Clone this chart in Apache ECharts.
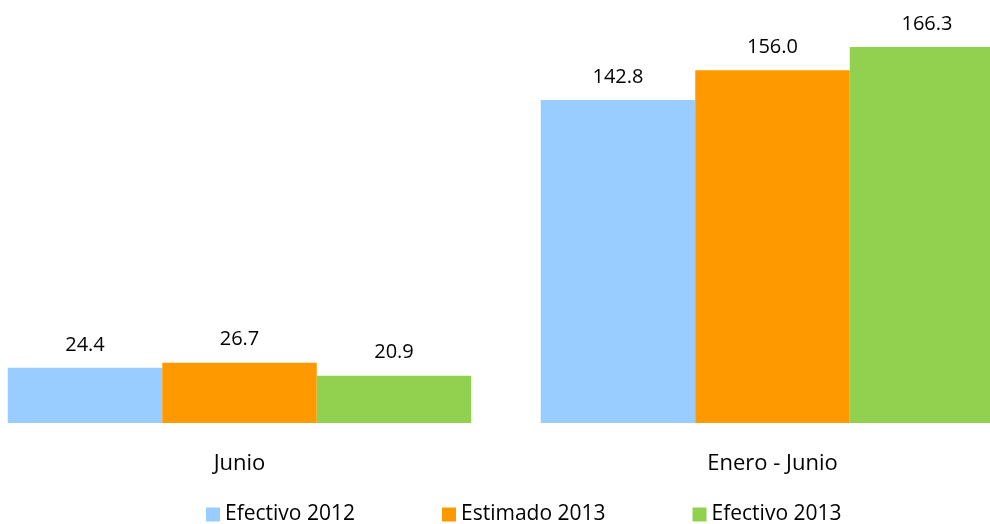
<!DOCTYPE html>
<html>
<head>
<meta charset="utf-8">
<script src="https://cdn.jsdelivr.net/npm/echarts@6/dist/echarts.min.js"></script>
<style>
  html, body { margin: 0; padding: 0; background: #fff; overflow: hidden; width: 990px; height: 524px; }
  /* grid extends past both page edges, like the original */
  #chart { width: 1066px; height: 524px; margin-left: -27px; }
</style>
</head>
<body>
<div id="chart"></div>
<script>
const categories = ['Junio', 'Enero - Junio'];
const seriesNames = ['Efectivo 2012', 'Estimado 2013', 'Efectivo 2013'];
const efectivo2012 = [24.4, 142.8];
const estimado2013 = [26.7, 156.0];
const efectivo2013 = [20.9, 166.3];
const colors = ['#99CCFF', '#FF9900', '#92D050'];

const chart = echarts.init(document.getElementById('chart'));
const font = 'Open Sans, Lato, sans-serif';

const makeSeries = (name, data) => ({
    name: name,
    type: 'bar',
    barWidth: 154.5,
    barGap: '0%',
    data: data,
    label: {
        show: true,
        position: 'top',
        distance: 13,
        color: '#000',
        fontSize: 20,
        fontFamily: font,
        formatter: p => p.value.toFixed(1)
    }
});

chart.setOption({
    animation: false,
    color: colors,
    grid: {
        left: 0,
        right: 0,
        top: 16,
        bottom: 101,
        containLabel: false
    },
    legend: {
        top: 499,
        left: 228,
        itemWidth: 14,
        itemHeight: 14,
        itemGap: 87,
        icon: 'rect',
        textStyle: { fontSize: 21, fontFamily: font, color: '#000' },
        data: seriesNames
    },
    xAxis: {
        type: 'category',
        data: categories,
        axisLine: { show: false },
        axisTick: { show: false },
        axisLabel: { margin: 30, fontSize: 22, fontFamily: font, color: '#000' }
    },
    yAxis: {
        type: 'value',
        min: 0,
        max: 180,
        show: false,
        splitLine: { show: false }
    },
    series: [
        makeSeries(seriesNames[0], efectivo2012),
        makeSeries(seriesNames[1], estimado2013),
        makeSeries(seriesNames[2], efectivo2013)
    ]
});
</script>
</body>
</html>
